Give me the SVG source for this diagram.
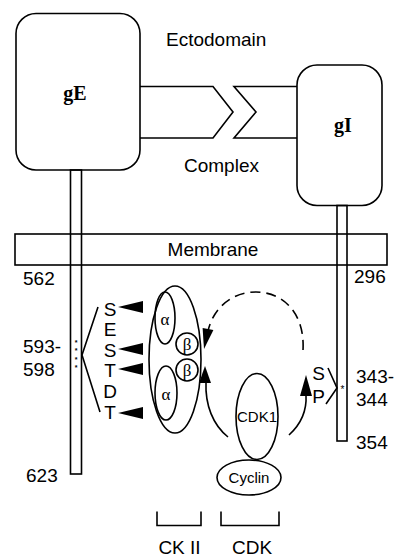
<svg xmlns="http://www.w3.org/2000/svg" width="398" height="557" viewBox="0 0 398 557">
<style>
.ln{fill:none;stroke:#000;stroke-width:1.6}
.wf{fill:#fff;stroke:#000;stroke-width:1.6}
.fl{fill:#000;stroke:none}
.t{font-family:"Liberation Sans",Arial,sans-serif;font-size:19px;fill:#000}
.n{font-family:"Liberation Sans",Arial,sans-serif;font-size:19px;fill:#000}
.b{font-family:"Liberation Serif","Times New Roman",serif;font-weight:bold;font-size:20px;fill:#000}
.g{font-family:"Liberation Serif","Times New Roman",serif;font-size:17px;fill:#000}
.c{font-family:"Liberation Sans",Arial,sans-serif;font-size:15px;fill:#000}
.s{font-family:"Liberation Sans",Arial,sans-serif;font-size:10px;fill:#000}
.a{font-family:"Liberation Sans",Arial,sans-serif;font-size:7px;font-weight:bold;fill:#000}
</style>
<rect width="398" height="557" fill="#fff"/>
<g id="complex">
<path class="ln" d="M140,86.5 H213 L233,112 L213,138 H140"/>
<path class="ln" d="M297,86.5 H234 L256,112 L234,138 H297"/>
<text class="t" x="166" y="46">Ectodomain</text>
<text class="t" x="184" y="172">Complex</text>
</g>
<g id="membrane">
<rect class="ln" x="15" y="234" width="372" height="31"/>
<text class="t" x="213" y="256" text-anchor="middle">Membrane</text>
</g>
<g id="gE">
<rect class="wf" x="16" y="13.5" width="124" height="156.5" rx="20"/>
<text class="b" x="75" y="100" text-anchor="middle">gE</text>
<rect class="ln" x="70.5" y="170" width="11" height="304"/>
<text class="n" x="23" y="285">562</text>
<text class="n" x="23" y="353">593-</text>
<text class="n" x="23" y="376">598</text>
<text class="n" x="26" y="482">623</text>
<text class="a" x="76" y="345" text-anchor="middle">*</text>
<text class="a" x="76" y="353.3" text-anchor="middle">*</text>
<text class="a" x="76" y="361.6" text-anchor="middle">*</text>
<text class="a" x="76" y="369.9" text-anchor="middle">*</text>
<path class="ln" d="M98,307 L82,355 L100,412"/>
<text class="t" x="110" y="315.5" text-anchor="middle">S</text>
<text class="t" x="110" y="336" text-anchor="middle">E</text>
<text class="t" x="110" y="356.5" text-anchor="middle">S</text>
<text class="t" x="110" y="376.5" text-anchor="middle">T</text>
<text class="t" x="110" y="398" text-anchor="middle">D</text>
<text class="t" x="110" y="418.5" text-anchor="middle">T</text>
</g>
<g id="gI">
<rect class="wf" x="297" y="65" width="85" height="140.5" rx="20"/>
<text class="b" x="343" y="131.5" text-anchor="middle">gI</text>
<rect class="ln" x="337" y="205.5" width="10" height="235.5"/>
<text class="n" x="354" y="283">296</text>
<text class="n" x="356" y="383">343-</text>
<text class="n" x="356" y="406">344</text>
<text class="n" x="356" y="449">354</text>
<text class="s" x="342.5" y="393" text-anchor="middle">*</text>
<path class="ln" d="M328,368 L337,388 L326,404"/>
<text class="t" x="318.5" y="380" text-anchor="middle">S</text>
<text class="t" x="318.5" y="403" text-anchor="middle">P</text>
</g>
<g id="ck2">
<ellipse class="ln" cx="175" cy="359.5" rx="26" ry="73.5"/>
<ellipse class="ln" cx="165" cy="318" rx="10" ry="26"/>
<ellipse class="ln" cx="166" cy="393" rx="11" ry="27"/>
<circle class="wf" cx="187" cy="344" r="11"/>
<circle class="wf" cx="187" cy="370" r="11"/>
<text class="g" x="165" y="325" text-anchor="middle">α</text>
<text class="g" x="166" y="400" text-anchor="middle">α</text>
<text class="g" x="187" y="350" text-anchor="middle">β</text>
<text class="g" x="187" y="376" text-anchor="middle">β</text>
<path class="ln" d="M157,511.5 V525.5 H201 V511.5"/>
<text class="t" x="179.5" y="554" text-anchor="middle">CK II</text>
</g>
<g id="cdk">
<ellipse class="wf" cx="257" cy="416.5" rx="21" ry="43"/>
<text class="c" x="257" y="421.5" text-anchor="middle">CDK1</text>
<ellipse class="wf" cx="249" cy="477.5" rx="32" ry="17.5"/>
<text class="c" x="249" y="482.5" text-anchor="middle">Cyclin</text>
<path class="ln" d="M221,511.5 V525.5 H279 V511.5"/>
<text class="t" x="252" y="554" text-anchor="middle">CDK</text>
</g>
<g id="connectors">
<polygon class="fl" points="118,307 143,301 143,313"/>
<polygon class="fl" points="118,349 143,343 143,355"/>
<polygon class="fl" points="118,369 143,363 143,375"/>
<polygon class="fl" points="118,413 143,407 143,419"/>
<path class="ln" stroke-dasharray="10,6" d="M303,350 C305,312 282,292 256,292 C231,292 213,309 208,331"/>
<polygon class="fl" points="204,349 202.6,327.9 213.4,330.1"/>
<path class="ln" d="M228,437 C213,425 205,405 206,382"/>
<polygon class="fl" points="205,366 199,383 211,383"/>
<path class="ln" d="M289,435 C300,425 307,412 306,395"/>
<polygon class="fl" points="306,375 300,396 312,396"/>
</g>
</svg>
